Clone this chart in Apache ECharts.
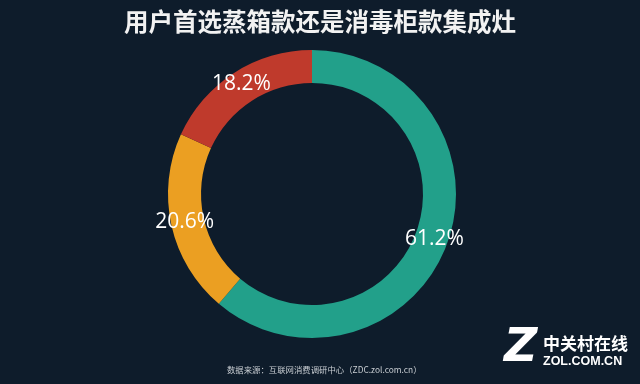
<!DOCTYPE html>
<html><head><meta charset="utf-8">
<script src="https://cdn.jsdelivr.net/npm/echarts@6/dist/echarts.min.js"></script>
<style>html,body{margin:0;padding:0;background:#0e1c2b;}#c{width:640px;height:384px;}</style>
</head><body><div id="c"></div>
<script>
const categories = ['蒸箱款', '消毒柜款', '其他'];
const values = [61.2, 20.6, 18.2];
const colors = ['#22a08a', '#eb9f22', '#bf3a2c'];
const titleText = '用户首选蒸箱款还是消毒柜款集成灶';
const sourceText = '数据来源：互联网消费调研中心（ZDC.zol.com.cn）';

const chart = echarts.init(document.getElementById('c'));
chart.setOption({
  backgroundColor: '#0e1c2b',
  title: {
    text: titleText, left: 'center', top: 4,
    textStyle: {color: '#f2f2f2', fontSize: 24.5, fontWeight: 'bold', fontFamily: 'Noto Sans CJK SC'}
  },
  graphic: [
    {type: 'text', left: 227, top: 366, style: {text: sourceText, fill: '#c8cdd2', fontSize: 8.4, fontFamily: 'Noto Sans CJK SC'}},
    {type: 'text', left: 504, top: 326, style: {text: 'Z', fill: '#ffffff', fontSize: 46, fontWeight: 'bold', fontStyle: 'italic', fontFamily: 'DejaVu Sans'}},
    {type: 'text', left: 543, top: 335, style: {text: '中关村在线', fill: '#ffffff', fontSize: 17, fontWeight: 'bold', fontFamily: 'Noto Sans CJK SC'}},
    {type: 'text', left: 543, top: 355, style: {text: 'ZOL.COM.CN', fill: '#ffffff', fontSize: 12.5, fontWeight: 'bold', fontFamily: 'Liberation Sans'}}
  ],
  series: [{
    type: 'pie',
    center: [312, 194],
    radius: [111, 144],
    startAngle: 90,
    clockwise: true,
    silent: true,
    data: categories.map((n, i) => ({name: n, value: values[i], itemStyle: {color: colors[i]}})),
    label: {
      show: true, position: 'inside',
      formatter: p => p.value.toFixed(1) + '%',
      color: '#ffffff', fontSize: 21, fontFamily: 'Open Sans'
    },
    labelLine: {show: false}
  }]
});
</script></body></html>
